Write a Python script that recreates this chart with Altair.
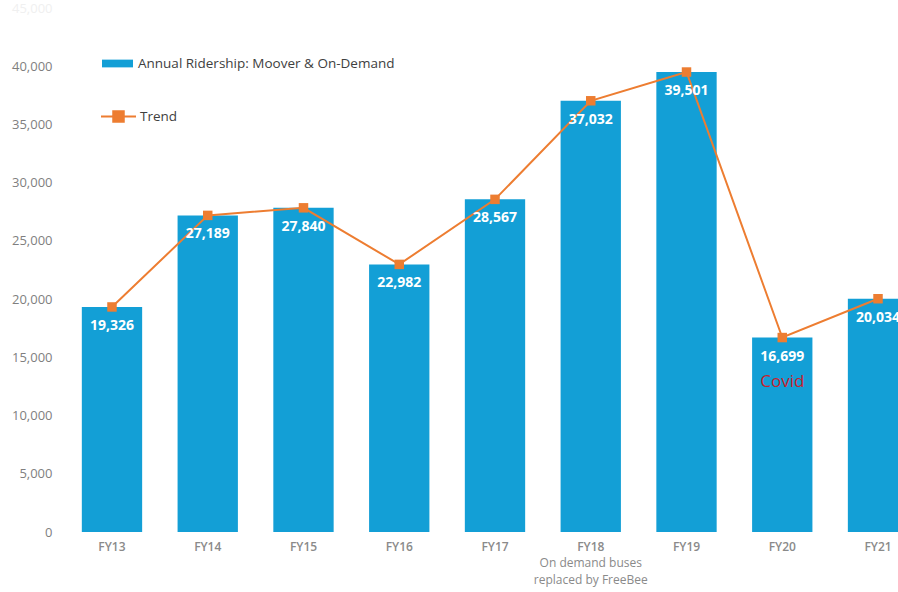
import altair as alt
import pandas as pd

years = ["FY13", "FY14", "FY15", "FY16", "FY17", "FY18", "FY19", "FY20", "FY21"]
ridership = [19326, 27189, 27840, 22982, 28567, 37032, 39501, 16699, 20034]
bar_series = "Annual Ridership: Moover & On-Demand"
trend_series = "Trend"

covid_year = ["FY20"]
covid_value = [16699]
covid_text = ["Covid"]

note_year = ["FY18"]
note_value = [0]
note_text = ["On demand buses\nreplaced by FreeBee"]

BLUE = "#139FD6"
ORANGE = "#ED7D31"
FONT = "Open Sans"

df = pd.DataFrame({
    "fy": years,
    "value": ridership,
    "label": [f"{v:,}" for v in ridership],
    "series": [bar_series] * len(years),
    "trend": [trend_series] * len(years),
})
covid_df = pd.DataFrame({"fy": covid_year, "value": covid_value, "text": covid_text})
note_df = pd.DataFrame({"fy": note_year, "value": note_value, "text": note_text})

x_enc = alt.X(
    "fy:N",
    sort=years,
    scale=alt.Scale(range=[0, 866], paddingInner=0.37, paddingOuter=0.207),
    axis=alt.Axis(
        title=None, labelAngle=0, domain=False, ticks=False, labelPadding=9,
        labelFont=FONT, labelFontSize=12, labelFontWeight=600, labelColor="#8a8a8a",
    ),
)
y_enc = alt.Y(
    "value:Q",
    scale=alt.Scale(domain=[0, 45000], nice=False),
    axis=alt.Axis(
        title=None, values=list(range(0, 45001, 5000)), format=",.0f", grid=False,
        domain=False, ticks=False, labelPadding=10, labelFont=FONT, labelFontSize=13,
        labelColor={"condition": {"test": "datum.value >= 45000", "value": "#f0f0f0"}, "value": "#7f7f7f"},
    ),
)

base = alt.Chart(df)

bars = base.mark_bar().encode(
    x=x_enc,
    y=y_enc,
    color=alt.Color(
        "series:N",
        scale=alt.Scale(domain=[bar_series], range=[BLUE]),
        legend=alt.Legend(
            orient="none", legendX=40, legendY=40, title=None,
            symbolType="M-1,-0.25H1V0.25H-1Z", symbolSize=961, symbolStrokeWidth=0,
            labelFont=FONT, labelFontSize=13.5, labelColor="#404040", labelOffset=5,
            labelLimit=500, padding=0,
        ),
    ),
)

line = base.mark_line(strokeWidth=2).encode(
    x=x_enc,
    y=y_enc,
    stroke=alt.Stroke(
        "trend:N",
        scale=alt.Scale(domain=[trend_series], range=[ORANGE]),
        legend=alt.Legend(
            orient="none", legendX=38, legendY=90, title=None,
            symbolType="M-1,0H-0.3M0.3,0H1M-0.3,-0.3H0.3V0.3H-0.3Z", symbolSize=1225,
            symbolStrokeWidth=2, symbolFillColor=ORANGE,
            labelFont=FONT, labelFontSize=13.5, labelColor="#404040", labelOffset=3,
            labelLimit=500, padding=0,
        ),
    ),
)

markers = base.mark_square(size=90, color=ORANGE, opacity=1).encode(
    x=x_enc,
    y=y_enc,
)

labels = base.mark_text(
    color="white", font=FONT, fontSize=14, fontWeight="bold", dy=19, baseline="middle"
).encode(
    x=x_enc,
    y=y_enc,
    text="label:N",
)

covid = alt.Chart(covid_df).mark_text(
    color="#C8202B", font=FONT, fontSize=17, dy=44, baseline="middle"
).encode(
    x=x_enc,
    y=y_enc,
    text="text:N",
)

note = alt.Chart(note_df).mark_text(
    color="#8a8a8a", font=FONT, fontSize=12, dy=26, baseline="top", lineBreak="\n", lineHeight=17
).encode(
    x=x_enc,
    y=y_enc,
    text="text:N",
)

chart = alt.layer(bars, line, markers, labels, covid, note).properties(
    width=836,
    height=524,
    padding={"left": 62, "top": 8, "right": 0, "bottom": 60},
    autosize=alt.AutoSizeParams(type="none"),
    background="white",
).configure_view(stroke=None)

chart.save("out.html", embed_options={"renderer": "svg", "actions": False})
